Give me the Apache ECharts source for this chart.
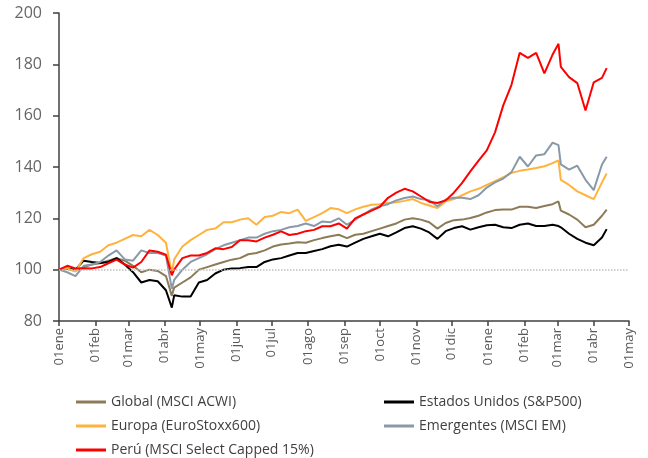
<!DOCTYPE html>
<html>
<head>
<meta charset="utf-8">
<script src="https://cdn.jsdelivr.net/npm/echarts@6/dist/echarts.min.js"></script>
<style>
  html, body { margin: 0; padding: 0; background: #fff; }
  #chart { width: 648px; height: 458px; }
</style>
</head>
<body>
<div id="chart"></div>
<script>
// weekly sample dates (plus a couple of extra dates around sharp moves)
const dates = [
  '2025-01-01', '2025-01-08', '2025-01-15', '2025-01-22', '2025-01-29', '2025-02-05', '2025-02-12',
  '2025-02-19', '2025-02-26', '2025-03-05', '2025-03-12', '2025-03-19', '2025-03-26', '2025-04-02',
  '2025-04-07',
  '2025-04-09', '2025-04-16', '2025-04-23', '2025-04-30', '2025-05-07', '2025-05-14', '2025-05-21',
  '2025-05-28', '2025-06-04', '2025-06-11', '2025-06-18', '2025-06-25', '2025-07-02', '2025-07-09',
  '2025-07-16', '2025-07-23', '2025-07-30', '2025-08-06', '2025-08-13', '2025-08-20', '2025-08-27',
  '2025-09-03', '2025-09-10', '2025-09-17', '2025-09-24', '2025-10-01', '2025-10-08', '2025-10-15',
  '2025-10-22', '2025-10-29', '2025-11-05', '2025-11-12', '2025-11-19', '2025-11-26', '2025-12-03',
  '2025-12-10', '2025-12-17', '2025-12-24', '2025-12-31', '2026-01-07', '2026-01-14', '2026-01-21',
  '2026-01-28', '2026-02-04', '2026-02-11', '2026-02-18', '2026-02-25',
  '2026-03-02',
  '2026-03-04', '2026-03-11', '2026-03-18', '2026-03-25', '2026-04-01', '2026-04-08',
  '2026-04-12',
];

const globalAcwi = [
  100, 100.3, 99.5, 101, 102, 102.5, 103.5, 104.5, 103.5, 101.5, 99, 100, 99.5, 97.5,
  89.8,
  93, 95, 97, 100, 101, 102, 103, 103.9, 104.5, 106, 106.5, 107.5, 109, 109.8, 110.2, 110.7,
  110.5, 111.5, 112.3, 113, 113.6, 112.3, 113.6, 114, 115, 116, 117, 118, 119.5, 120, 119.5,
  118.5, 116, 118.2, 119.3, 119.5, 120.1, 121, 122.3, 123.2, 123.4, 123.4, 124.5, 124.5, 124,
  124.8, 125.5,
  126.6,
  123, 121.5, 119.5, 116.5, 117.5, 121,
  123.4,
];

const usaSp500 = [
  100, 100.5, 100, 103.5, 103, 102.6, 103, 104.5, 102, 99, 95, 96, 95.5, 92,
  85.2,
  90, 89.5, 89.5, 95, 96, 98.5, 100, 100.5, 100.6, 101, 101, 103, 104, 104.5, 105.5, 106.5,
  106.5, 107.3, 108, 109.1, 109.7, 109, 110.5, 112, 113, 114, 113, 114.5, 116.2, 116.9, 116,
  114.5, 112, 115, 116.2, 116.9, 115.6, 116.5, 117.3, 117.5, 116.5, 116.2, 117.5, 118, 117,
  117, 117.5,
  117,
  116.5, 114, 112, 110.5, 109.5, 112.5,
  115.8,
];

const europaStoxx = [
  100, 100.5, 99.3, 104.5, 106, 107, 109.5, 110.5, 112, 113.5, 113, 115.5, 113.5, 110.5,
  98.5,
  104, 109, 111.5, 113.5, 115.5, 116, 118.5, 118.5, 119.5, 120, 117.5, 120.5, 121, 122.5, 122,
  123.4, 119, 120.5, 122, 124, 123.5, 122, 123.5, 124.5, 125.3, 125.5, 126, 126.3, 126.8, 127.5,
  126, 125, 124, 126.6, 127.5, 129, 130.5, 131.5, 133, 134.5, 136, 137.7, 138.5, 139, 139.6,
  140.3, 141.5,
  142.6,
  135, 133, 130.5, 129, 127.5, 134,
  137.5,
];

const emergentes = [
  100, 99, 97.5, 101.5, 102, 103, 105.5, 107.5, 104, 103.5, 107.5, 106.5, 106.5, 105.5,
  92.5,
  96, 100, 103, 104.5, 106, 108, 109.5, 110.5, 111.5, 112.5, 112.5, 114, 115, 115.5, 116.5,
  117, 118, 117, 118.8, 118.5, 120, 117.5, 119.5, 121.5, 123.5, 124.7, 125.5, 127, 127.9, 128.5,
  127.5, 127, 124.7, 127.3, 128, 128, 127.5, 129, 132, 134, 135.5, 138, 144, 140.2, 144.5,
  145, 149.5,
  148.5,
  141, 139, 140.5, 135, 131, 141,
  144,
];

const peru = [
  100, 101.5, 100.5, 100.6, 100.5, 101, 102.5, 103.9, 102, 100.8, 103, 107.5, 107, 105.8,
  97.8,
  100, 104.5, 105.5, 105.5, 106.5, 108.3, 108, 108.8, 111.5, 111.5, 111, 112.5, 113.6, 114.9,
  113.5, 114, 115, 115.5, 116.9, 116.9, 118, 116, 120, 121.5, 123, 124.5, 128, 130, 131.5,
  130.5, 128.5, 126.5, 126, 127, 130, 133.8, 138.3, 142.5, 146.5, 153.5, 164, 172, 184.5,
  182.5, 184.5, 176.5, 183.8,
  188,
  179, 175, 172.7, 162, 173, 174.7,
  178.5,
];

const monthNames = ['ene', 'feb', 'mar', 'abr', 'may', 'jun', 'jul', 'ago', 'sep', 'oct', 'nov', 'dic'];
const axisStart = '2025-01-01';
const axisEnd = '2026-05-01';

const seriesDefs = [
  { name: 'Global (MSCI ACWI)', data: globalAcwi, color: '#8c7b56' },
  { name: 'Estados Unidos (S&P500)', data: usaSp500, color: '#000000' },
  { name: 'Europa (EuroStoxx600)', data: europaStoxx, color: '#ffb23e' },
  { name: 'Emergentes (MSCI EM)', data: emergentes, color: '#8999a8' },
  { name: 'Perú (MSCI Select Capped 15%)', data: peru, color: '#ff0000' },
];

// one category per calendar day, so months land where they should
const days = [];
for (let d = new Date(axisStart + 'T00:00:00Z'); d <= new Date(axisEnd + 'T00:00:00Z'); d.setUTCDate(d.getUTCDate() + 1)) {
  days.push(d.toISOString().slice(0, 10));
}
const isMonthStart = (i, value) => value.slice(8) === '01';

const font = 'Open Sans';
const chart = echarts.init(document.getElementById('chart'));

// legend laid out as two columns, one component per entry
const legendSlots = [[76, 395], [384, 395], [76, 419], [384, 419], [76, 443]];
const legends = seriesDefs.map((s, i) => ({
  left: legendSlots[i][0],
  top: legendSlots[i][1],
  padding: 0,
  itemWidth: 30,
  itemHeight: 3,
  icon: 'rect',
  textStyle: { fontFamily: font, fontSize: 14, color: '#404040' },
  data: [s.name],
}));

chart.setOption({
  animation: false,
  textStyle: { fontFamily: font },
  grid: {
    left: 59,
    right: 19,
    top: 13,
    bottom: 137,
  },
  legend: legends,
  xAxis: {
    type: 'category',
    data: days,
    boundaryGap: false,
    axisLine: { lineStyle: { color: '#404040', width: 1.5 } },
    axisTick: { interval: isMonthStart, length: 5, lineStyle: { color: '#404040', width: 1.5 } },
    axisLabel: {
      interval: isMonthStart,
      rotate: 90,
      margin: 7,
      fontSize: 13,
      color: '#595959',
      formatter: (value) => '01' + monthNames[Number(value.slice(5, 7)) - 1],
    },
    splitLine: { show: false },
  },
  yAxis: {
    type: 'value',
    min: 80,
    max: 200,
    interval: 20,
    axisLine: { show: true, lineStyle: { color: '#404040', width: 1.5 } },
    axisTick: { show: true, length: 6, lineStyle: { color: '#404040', width: 1.5 } },
    axisLabel: { fontSize: 16, color: '#666666', margin: 17 },
    splitLine: { show: false },
  },
  series: seriesDefs.map((s, i) => ({
    name: s.name,
    type: 'line',
    showSymbol: false,
    data: dates.map((d, j) => [d, s.data[j]]),
    lineStyle: { width: 2, color: s.color },
    itemStyle: { color: s.color },
    // dotted reference line at 100
    markLine: i === 0 ? {
      silent: true,
      symbol: 'none',
      label: { show: false },
      lineStyle: { type: 'dotted', color: '#bfbfbf', width: 1.5 },
      data: [{ yAxis: 100 }],
    } : undefined,
  })),
});
</script>
</body>
</html>
